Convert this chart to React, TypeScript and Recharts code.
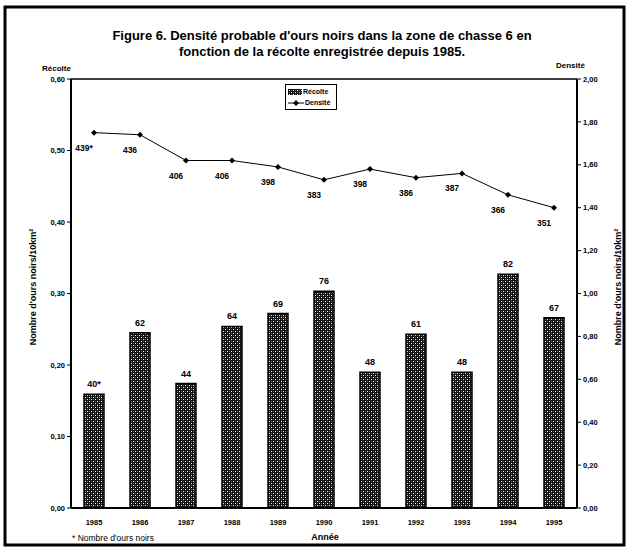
import {
  Bar,
  ComposedChart,
  LabelList,
  Line,
  ReferenceLine,
  XAxis,
  YAxis,
} from 'recharts';

const years = ['1985', '1986', '1987', '1988', '1989', '1990', '1991', '1992', '1993', '1994', '1995'];
// harvest (récolte) as bears / 10 km², left axis
const recolte = [0.159, 0.245, 0.174, 0.254, 0.272, 0.303, 0.19, 0.243, 0.19, 0.327, 0.266];
const recolteLabels = ['40*', '62', '44', '64', '69', '76', '48', '61', '48', '82', '67'];
// density, right axis
const densite = [1.75, 1.74, 1.62, 1.62, 1.59, 1.53, 1.58, 1.54, 1.56, 1.46, 1.4];
const densiteLabels = ['439*', '436', '406', '406', '398', '383', '398', '386', '387', '366', '351'];

const leftTicks = [0, 0.1, 0.2, 0.3, 0.4, 0.5, 0.6];
const rightTicks = [0, 0.2, 0.4, 0.6, 0.8, 1.0, 1.2, 1.4, 1.6, 1.8, 2.0];

const W = 629;
const H = 551;
const FONT = '"Liberation Sans", Arial, sans-serif';

const rows = years.map((year, i) => ({
  year,
  recolte: recolte[i],
  recolteLabel: recolteLabels[i],
  densite: densite[i],
  densiteLabel: densiteLabels[i],
}));

const fmt = (v: number) => v.toFixed(2).replace('.', ',');

const Diamond = (props: any) => {
  const { cx, cy } = props;
  if (cx == null || cy == null) return null;
  const s = 3;
  return <path d={`M${cx},${cy - s}L${cx + s},${cy}L${cx},${cy + s}L${cx - s},${cy}Z`} fill="#000" />;
};

const barLabel = (props: any) => {
  const { x, y, width, value } = props;
  return (
    <text x={Number(x) + Number(width) / 2} y={Number(y) - 7} textAnchor="middle" fontSize={9} fontWeight="bold" fill="#000" fontFamily={FONT}>
      {value}
    </text>
  );
};

const lineLabel = (props: any) => {
  const { x, y, value } = props;
  return (
    <text x={Number(x) - 10} y={Number(y) + 18} textAnchor="middle" fontSize={8.5} fontWeight="bold" fill="#000" fontFamily={FONT}>
      {value}
    </text>
  );
};

const LegendBox = () => (
  <div
    style={{
      position: 'absolute',
      left: 285,
      top: 84,
      border: '1px solid #000',
      background: '#fff',
      fontFamily: FONT,
      fontSize: 7,
      fontWeight: 'bold',
      lineHeight: '11px',
      padding: '1px 2px',
      width: 46,
    }}
  >
    <div style={{ display: 'flex', alignItems: 'center', gap: 1 }}>
      <svg width={14} height={6}>
        <rect x={0} y={0} width={14} height={6} fill="url(#hatch)" />
      </svg>
      <span>Récolte</span>
    </div>
    <div style={{ display: 'flex', alignItems: 'center', gap: 1 }}>
      <svg width={16} height={8}>
        <line x1={0} y1={4} x2={16} y2={4} stroke="#000" strokeWidth={1} />
        <path d="M8,1L11,4L8,7L5,4Z" fill="#000" />
      </svg>
      <span>Densité</span>
    </div>
  </div>
);

export default function App() {
  return (
    <div style={{ position: 'absolute', left: 0, top: 0, width: W, height: H, background: '#fff' }}>
      <ComposedChart
        width={W}
        height={H}
        data={rows}
        margin={{ top: 79, right: 0, bottom: 0, left: 0 }}
        barSize={20}
      >
        <XAxis
          dataKey="year"
          height={43}
          axisLine={{ stroke: '#000', strokeWidth: 2 }}
          tickLine={false}
          tickMargin={6}
          tick={{ fontSize: 7.5, fill: '#000', fontFamily: FONT, fontWeight: 'bold' }}
        />
        <YAxis
          yAxisId="left"
          width={71}
          domain={[0, 0.6]}
          ticks={leftTicks}
          tickFormatter={fmt}
          axisLine={{ stroke: '#000', strokeWidth: 2 }}
          tickLine={{ stroke: '#000' }}
          tickSize={4}
          tick={{ fontSize: 7.5, fill: '#000', fontFamily: FONT, fontWeight: 'bold' }}
        />
        <YAxis
          yAxisId="right"
          orientation="right"
          width={52}
          domain={[0, 2]}
          ticks={rightTicks}
          tickFormatter={fmt}
          axisLine={{ stroke: '#000', strokeWidth: 2 }}
          tickLine={{ stroke: '#000' }}
          tickSize={4}
          tick={{ fontSize: 7.5, fill: '#000', fontFamily: FONT, fontWeight: 'bold' }}
        />
        <ReferenceLine yAxisId="left" y={0.6} stroke="#000" strokeWidth={1.5} />
        <Bar yAxisId="left" dataKey="recolte" name="Récolte" fill="url(#hatch)" stroke="#000" strokeWidth={1.5} isAnimationActive={false}>
          <LabelList dataKey="recolteLabel" content={barLabel} />
        </Bar>
        <Line
          yAxisId="right"
          dataKey="densite"
          name="Densité"
          type="linear"
          stroke="#000"
          strokeWidth={1}
          dot={<Diamond />}
          activeDot={false}
          isAnimationActive={false}
        >
          <LabelList dataKey="densiteLabel" content={lineLabel} />
        </Line>
      </ComposedChart>

      <svg
        width={W}
        height={H}
        style={{ position: 'absolute', left: 0, top: 0, pointerEvents: 'none' }}
        fontFamily={FONT}
      >
        <defs>
          <pattern id="hatch" width={4} height={4} patternUnits="userSpaceOnUse">
            <rect width={4} height={4} fill="#111" />
            <rect x={1} y={1} width={1} height={1} fill="#fff" />
            <rect x={3} y={3} width={1} height={1} fill="#eee" />
            <rect x={3} y={1} width={1} height={1} fill="#666" />
            <rect x={1} y={3} width={1} height={1} fill="#666" />
          </pattern>
        </defs>
        <rect x={5} y={7} width={619} height={538} fill="none" stroke="#000" strokeWidth={3} />
        <text x={322} y={40} textAnchor="middle" fontSize={13} fontWeight="bold" fill="#000">
          Figure 6. Densité probable d'ours noirs dans la zone de chasse 6 en
        </text>
        <text x={322} y={56} textAnchor="middle" fontSize={13} fontWeight="bold" fill="#000">
          fonction de la récolte enregistrée depuis 1985.
        </text>
        <text x={42} y={71} fontSize={8} fontWeight="bold" fill="#000">Récolte</text>
        <text x={556} y={68} fontSize={8} fontWeight="bold" fill="#000">Densité</text>
        <text x={325} y={540} textAnchor="middle" fontSize={9} fontWeight="bold" fill="#000">Année</text>
        <text x={72} y={541} fontSize={8.5} fill="#000">* Nombre d'ours noirs</text>
        <text x={0} y={0} transform="translate(36,287) rotate(-90)" textAnchor="middle" fontSize={9} fontWeight="bold" fill="#000">
          Nombre d'ours noirs/10km²
        </text>
        <text x={0} y={0} transform="translate(621,287) rotate(-90)" textAnchor="middle" fontSize={9} fontWeight="bold" fill="#000">
          Nombre d'ours noirs/10km²
        </text>
      </svg>
      <LegendBox />
    </div>
  );
}
